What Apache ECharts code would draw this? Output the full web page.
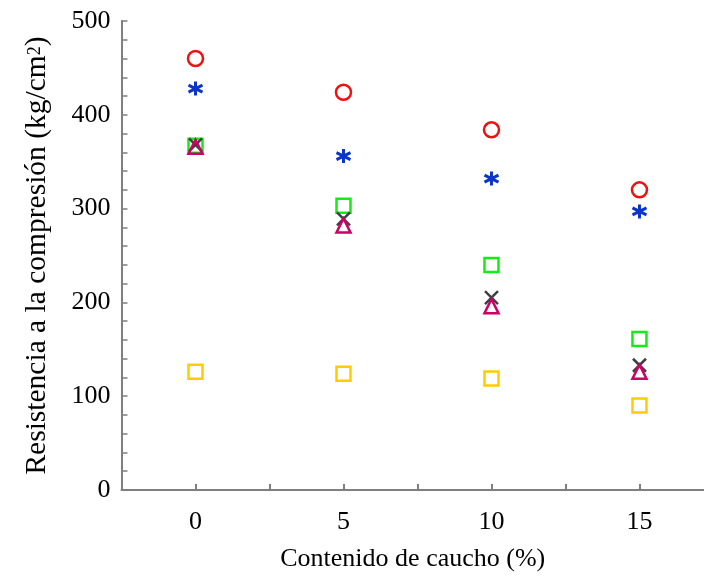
<!DOCTYPE html>
<html>
<head>
<meta charset="utf-8">
<script src="https://cdn.jsdelivr.net/npm/echarts@6/dist/echarts.min.js"></script>
<style>html,body{margin:0;padding:0;background:#fff}#c{width:704px;height:579px}</style>
</head>
<body>
<div id="c"></div>
<script>
const xValues = [0, 5, 10, 15];
const seriesRed = [460, 424, 384, 320];
const seriesBlue = [428, 356, 332, 297];
const seriesGreen = [367, 303, 240, 161];
const seriesCross = [368, 289, 205, 133];
const seriesTriangle = [366, 282, 196, 126];
const seriesYellow = [126, 124, 119, 90];
const yTicks = [0, 100, 200, 300, 400, 500];
const xTitle = 'Contenido de caucho (%)';
const yTitleMain = 'Resistencia a la compresión (kg/cm';
const yTitleSup = '2';

const pairs = arr => xValues.map((x, i) => [x, arr[i]]);
const FONT = 'Liberation Serif';
const asterisk = 'path://M0,-10L0,10M-8.66,-5L8.66,5M-8.66,5L8.66,-5';
const cross = 'path://M-10,-10L10,10M-10,10L10,-10';

function hollow(name, data, symbol, size, color, bw) {
  return {
    name, type: 'scatter', data: pairs(data), symbol, symbolSize: size,
    itemStyle: { color: 'rgba(0,0,0,0)', borderColor: color, borderWidth: bw, opacity: 1 },
    emphasis: { disabled: true }
  };
}

const chart = echarts.init(document.getElementById('c'));
chart.setOption({
  animation: false,
  backgroundColor: '#fff',
  grid: { left: 121.5, right: 0, top: 21, bottom: 89, containLabel: false },
  xAxis: {
    type: 'value', min: -2.5, max: 17.18, interval: 2.5,
    name: xTitle, nameLocation: 'middle', nameGap: 56,
    nameTextStyle: { fontFamily: FONT, fontSize: 26, color: '#000' },
    axisLine: { onZero: false, lineStyle: { color: '#7f7f7f', width: 2 } },
    axisTick: { inside: true, length: 6, lineStyle: { color: '#7f7f7f', width: 2 } },
    axisLabel: {
      fontFamily: FONT, fontSize: 26, color: '#000', margin: 19, showMaxLabel: false,
      formatter: v => (xValues.indexOf(v) >= 0 ? String(v) : '')
    },
    splitLine: { show: false }
  },
  yAxis: {
    type: 'value', min: yTicks[0], max: yTicks[yTicks.length - 1], interval: 100,
    name: '{m|' + yTitleMain + '}{s|' + yTitleSup + '}{m|)}', nameLocation: 'middle', nameGap: 69,
    nameTextStyle: {
      fontFamily: FONT, fontSize: 29.5, color: '#000',
      rich: {
        m: { fontFamily: FONT, fontSize: 29.5, color: '#000', verticalAlign: 'bottom', lineHeight: 32 },
        s: { fontFamily: FONT, fontSize: 18, color: '#000', verticalAlign: 'top', lineHeight: 26, padding: [6, 0, 0, 0] }
      }
    },
    axisLine: { show: true, onZero: false, lineStyle: { color: '#7f7f7f', width: 2 } },
    axisTick: { show: true, inside: true, length: 6, lineStyle: { color: '#7f7f7f', width: 1.5 } },
    minorTick: { show: true, splitNumber: 5, length: 6, lineStyle: { color: '#7f7f7f', width: 1.5 } },
    axisLabel: { fontFamily: FONT, fontSize: 26, color: '#000', margin: 11 },
    splitLine: { show: false }
  },
  series: [
    hollow('yellow', seriesYellow, 'rect', 14, '#ffcc00', 2.5),
    hollow('green', seriesGreen, 'rect', 14, '#11ee11', 2.5),
    hollow('cross', seriesCross, cross, 13, '#404040', 2.5),
    hollow('triangle', seriesTriangle, 'triangle', 14, '#cc0066', 2.5),
    hollow('blue', seriesBlue, asterisk, 14, '#0a35c8', 3),
    hollow('red', seriesRed, 'circle', 15, '#ee1111', 2.5)
  ]
});
</script>
</body>
</html>
